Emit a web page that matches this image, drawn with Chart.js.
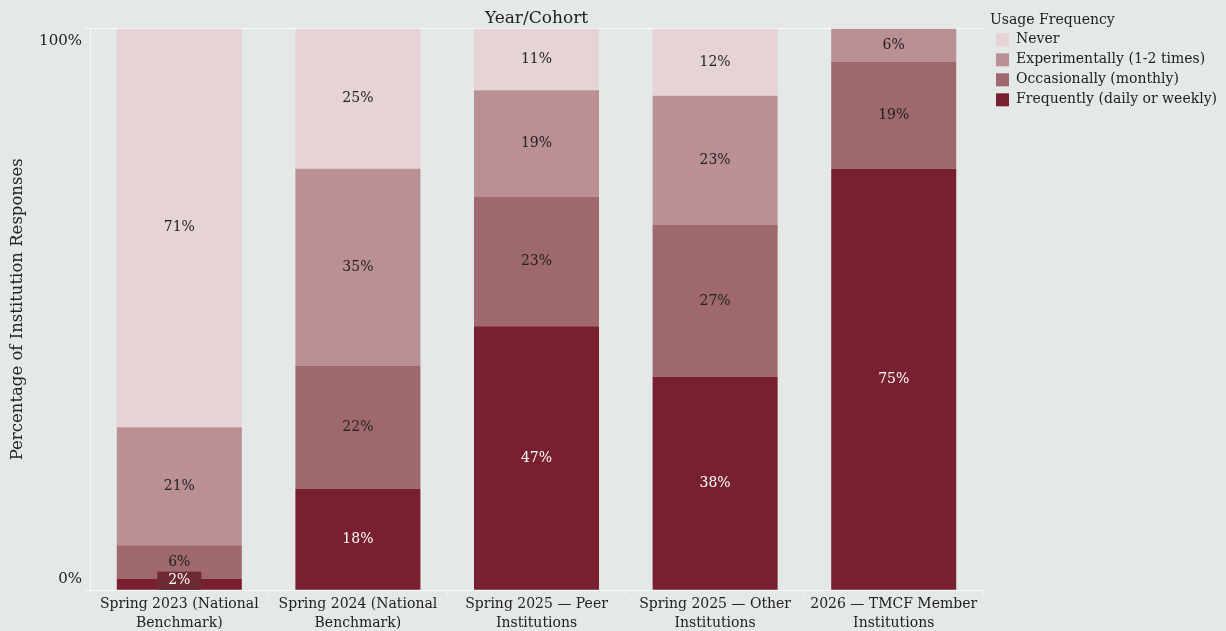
<!DOCTYPE html>
<html>
<head>
<meta charset="utf-8">
<script src="https://cdn.jsdelivr.net/npm/chart.js@4.4.1/dist/chart.umd.min.js"></script>
<style>
  html, body { margin: 0; padding: 0; background: #e4e8e6; }
  #wrap { width: 1226px; height: 631px; }
</style>
</head>
<body>
<div id="wrap"><canvas id="usage"></canvas></div>
<script>
// survey cohorts, one bar each
const cohorts = [
  ['Spring 2023 (National', 'Benchmark)'],
  ['Spring 2024 (National', 'Benchmark)'],
  ['Spring 2025 \u2014 Peer', 'Institutions'],
  ['Spring 2025 \u2014 Other', 'Institutions'],
  ['2026 \u2014 TMCF Member', 'Institutions']
];

// percent of responses per usage level
const frequently = [2, 18, 47, 38, 75];
const occasionally = [6, 22, 23, 27, 19];
const experimentally = [21, 35, 19, 23, 6];
const never = [71, 25, 11, 12, 0];

const yTicks = [0, 100];

const ink = '#222';
const rule = 'rgba(255,255,255,0.75)';

Chart.defaults.font.family = '"DejaVu Serif", serif';
Chart.defaults.color = ink;

// percent labels in the middle of each segment
const segmentLabels = {
  id: 'segmentLabels',
  afterDatasetsDraw(chart) {
    const ctx = chart.ctx;
    ctx.save();
    ctx.font = '14px "DejaVu Serif"';
    ctx.textAlign = 'center';
    ctx.textBaseline = 'middle';
    chart.data.datasets.forEach((ds, di) => {
      chart.getDatasetMeta(di).data.forEach((bar, i) => {
        const v = ds.data[i];
        if (!v) return;
        let cy = (bar.y + bar.base) / 2;
        if (bar.base - bar.y < 18) {
          // segment too thin for its text: sit the label on a small tab
          cy = bar.base - 9;
          ctx.fillStyle = '#6e2a34';
          ctx.fillRect(bar.x - 22, bar.base - 18, 44, 18);
        }
        ctx.fillStyle = di === 0 ? '#fff' : ink;
        ctx.fillText(v + '%', bar.x, cy);
      });
    });
    ctx.restore();
  }
};

// 100% sits just under the top rule, 0% just above the base
const yTickLabels = {
  id: 'yTickLabels',
  afterDraw(chart) {
    const y = chart.scales.y;
    const ctx = chart.ctx;
    ctx.save();
    ctx.font = '15px "DejaVu Serif"';
    ctx.fillStyle = ink;
    ctx.textAlign = 'right';
    ctx.textBaseline = 'middle';
    yTicks.forEach(t => {
      const py = y.getPixelForValue(t) + (t === 100 ? 13 : -11);
      ctx.fillText(t + '%', y.right - 8, py);
    });
    ctx.restore();
  }
};

// leave a little air between the plot and the legend
const legendGap = {
  id: 'legendGap',
  afterLayout(chart) {
    chart.legend.left += 7;
    chart.legend.right += 7;
  }
};

new Chart(document.getElementById('usage'), {
  type: 'bar',
  data: {
    labels: cohorts,
    datasets: [
      { label: 'Frequently (daily or weekly)', data: frequently, backgroundColor: '#78202f' },
      { label: 'Occasionally (monthly)', data: occasionally, backgroundColor: '#9e686c' },
      { label: 'Experimentally (1-2 times)', data: experimentally, backgroundColor: '#bb9095' },
      { label: 'Never', data: never, backgroundColor: '#e6d3d6' }
    ]
  },
  options: {
    responsive: true,
    maintainAspectRatio: false,
    animation: false,
    categoryPercentage: 0.7,
    barPercentage: 1,
    borderWidth: 0,
    layout: { padding: { left: 0, right: 6, top: 0, bottom: -3 } },
    plugins: {
      tooltip: { enabled: false },
      title: {
        display: true,
        text: 'Year/Cohort',
        fullSize: false,
        color: ink,
        font: { size: 17, weight: 'normal' },
        padding: { top: 8, bottom: 0 }
      },
      legend: {
        position: 'right',
        align: 'start',
        reverse: true,
        title: {
          display: true,
          position: 'start',
          text: 'Usage Frequency',
          color: ink,
          font: { size: 14, lineHeight: 1.2 },
          padding: { top: 13, bottom: -3 }
        },
        labels: {
          color: ink,
          font: { size: 14 },
          boxWidth: 13,
          boxHeight: 13,
          padding: 6
        }
      }
    },
    scales: {
      x: {
        stacked: true,
        grid: {
          display: true,
          drawOnChartArea: false,
          tickLength: 4,
          color: rule
        },
        border: { display: true, color: rule, dash: [2, 2] },
        ticks: {
          color: ink,
          padding: 1,
          font: { size: 14, lineHeight: 1.35 },
          maxRotation: 0,
          autoSkip: false
        }
      },
      y: {
        stacked: true,
        min: 0,
        max: 100,
        afterBuildTicks(scale) {
          scale.ticks = yTicks.map(v => ({ value: v }));
        },
        afterFit(scale) {
          scale.width = 90;
        },
        grid: {
          tickLength: 5,
          color: ctx => ctx.tick && ctx.tick.value === 100 ? rule : 'transparent',
          tickColor: rule
        },
        border: { display: true, color: rule },
        ticks: { display: false },
        title: {
          display: true,
          text: 'Percentage of Institution Responses',
          color: ink,
          font: { size: 16.5 },
          padding: { top: 8, bottom: 0 }
        }
      }
    }
  },
  plugins: [segmentLabels, yTickLabels, legendGap]
});
</script>
</body>
</html>
